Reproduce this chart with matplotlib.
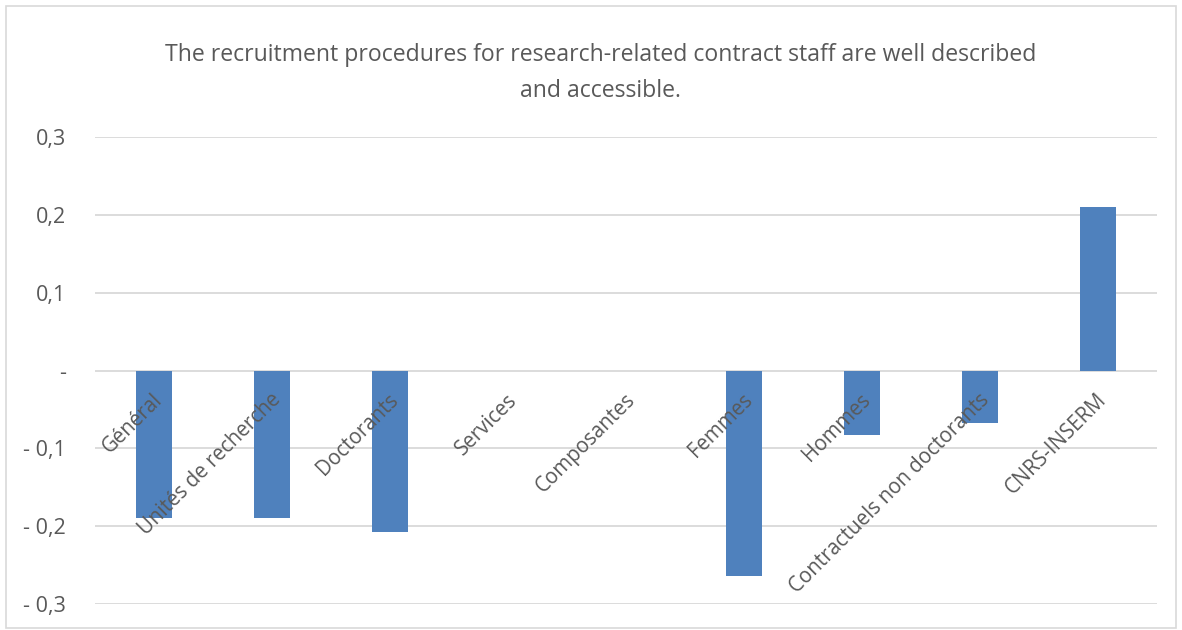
"""
Excel-style bar chart: recruitment procedures score by group
"""
import matplotlib
matplotlib.use("Agg")
import matplotlib.pyplot as plt
import matplotlib.patches as mpatches

# ── data ─────────────────────────────────────────────────────────────────────
categories = ["Général", "Unités de recherche", "Doctorants", "Services",
              "Composantes", "Femmes", "Hommes",
              "Contractuels non doctorants", "CNRS-INSERM"]
values = [-0.19, -0.19, -0.207, 0.0, 0.0, -0.264, -0.083, -0.067, 0.21]
yticks = [-0.3, -0.2, -0.1, 0.0, 0.1, 0.2, 0.3]
ytick_labels = ["- 0,3", "- 0,2", "- 0,1", "-", "0,1", "0,2", "0,3"]
title = ("The recruitment procedures for research-related contract staff are well described\n"
         "and accessible.")

# ── style ────────────────────────────────────────────────────────────────────
BAR = "#4F81BD"
TXT = "#595959"
GRID = "#D9D9D9"
plt.rcParams["font.family"] = ["Open Sans", "DejaVu Sans"]

fig = plt.figure(figsize=(11.82, 6.30), dpi=100, facecolor="white")
ax = fig.add_axes([0.0804, 0.0413, 0.8986, 0.7412])

xs = list(range(len(categories)))
ax.bar(xs, values, width=0.305, color=BAR, edgecolor="none", zorder=3)

ax.set_xlim(-0.5, len(categories) - 0.5)
ax.set_ylim(-0.3, 0.3)
ax.set_yticks(yticks)
ax.set_yticklabels(ytick_labels)
ax.tick_params(axis="y", length=0, pad=21, labelsize=15.5, labelcolor=TXT)
ax.set_xticks([])
ax.yaxis.grid(True, color=GRID, linewidth=1.3, zorder=0)
ax.set_axisbelow(True)
for s in ax.spines.values():
    s.set_visible(False)

# category labels hanging from the zero line
for x, lab in zip(xs, categories):
    ax.annotate(lab, xy=(x, 0), xytext=(4, -19), textcoords="offset points",
                rotation=45, rotation_mode="anchor", ha="right", va="center",
                fontsize=14.8, color=TXT, zorder=4)

fig.text(0.508, 0.884, title, ha="center", va="center", fontsize=16.6,
         color=TXT, linespacing=1.7)

# chart frame
fig.patches.append(mpatches.Rectangle((0.005, 0.003), 0.99, 0.987,
                                      transform=fig.transFigure, fill=False,
                                      edgecolor="#D9D9D9", linewidth=1.2))

fig.savefig("out.png", dpi=100, facecolor="white")
